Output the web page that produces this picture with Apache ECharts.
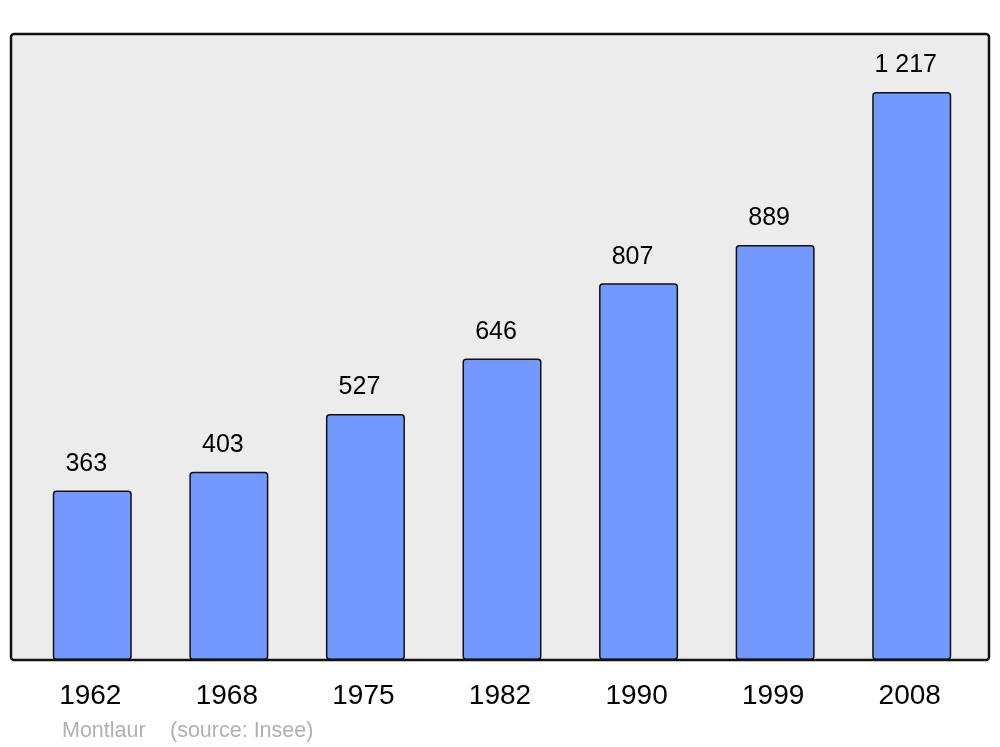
<!DOCTYPE html>
<html>
<head>
<meta charset="utf-8">
<script src="https://cdn.jsdelivr.net/npm/echarts@6/dist/echarts.min.js"></script>
<style>html,body{margin:0;padding:0;background:#fff;}#c{width:1000px;height:747px;}</style>
</head>
<body>
<div id="c"></div>
<script>
const years = ['1962','1968','1975','1982','1990','1999','2008'];
const population = [363, 403, 527, 646, 807, 889, 1217];
const captionPlace = 'Montlaur';
const captionSource = '(source: Insee)';

const fmt = v => String(v).replace(/\B(?=(\d{3})+(?!\d))/g, ' ');
const FONT = '"Liberation Sans", Arial, sans-serif';
const chart = echarts.init(document.getElementById('c'), null, {renderer: 'canvas'});
chart.setOption({
  animation: false,
  backgroundColor: '#ffffff',
  grid: {left: 24, right: 20, top: 34, bottom: 87},
  graphic: [
    {type: 'rect', z: -10, shape: {x: 11, y: 34, width: 978, height: 626, r: 3},
     style: {fill: '#ececec', stroke: 'none'}},
    {type: 'rect', z: 100, shape: {x: 11, y: 34, width: 978, height: 626, r: 3},
     style: {fill: 'none', stroke: '#111111', lineWidth: 2.5}},
    {type: 'text', z: 100, left: 62, top: 720,
     style: {text: captionPlace, fill: '#b0b0b0', font: '21.5px ' + FONT}},
    {type: 'text', z: 100, left: 170, top: 720,
     style: {text: captionSource, fill: '#b0b0b0', font: '21.5px ' + FONT}}
  ],
  xAxis: {
    type: 'category', data: years,
    axisLine: {show: false}, axisTick: {show: false},
    axisLabel: {color: '#000', fontSize: 28, fontFamily: FONT, margin: 22,
      padding: [0, 4, 0, 0]}
  },
  yAxis: {type: 'value', min: 0, max: 1341, show: false, splitLine: {show: false}},
  series: [{
    type: 'bar', data: population, barWidth: 79,
    itemStyle: {color: '#7399ff', borderColor: '#111111', borderWidth: 1.5, borderRadius: 3},
    label: {show: true, position: 'top', distance: 14, offset: [-6, 0], color: '#000', fontSize: 25,
      fontFamily: FONT, formatter: p => fmt(p.value)}
  }]
});
</script>
</body>
</html>
